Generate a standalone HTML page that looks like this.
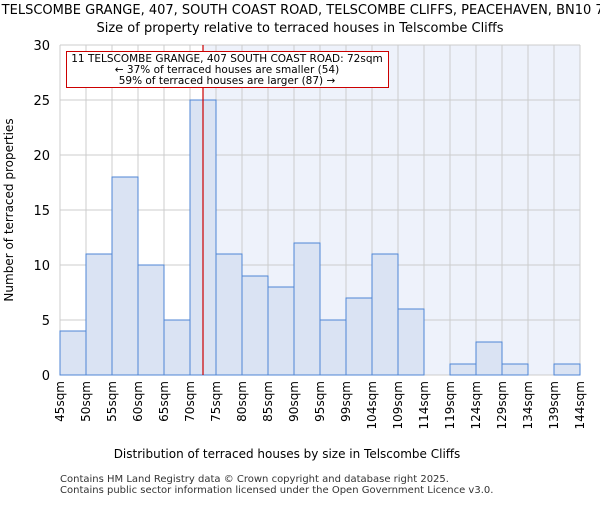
<!DOCTYPE html>
<html><head><meta charset="utf-8"><style>body{margin:0;background:#fff}svg{font-family:"DejaVu Sans","Liberation Sans",sans-serif}</style></head>
<body>
<svg id="c" width="600" height="500" xmlns="http://www.w3.org/2000/svg">
<text x="300" y="14" text-anchor="middle" font-size="13">11, TELSCOMBE GRANGE, 407, SOUTH COAST ROAD, TELSCOMBE CLIFFS, PEACEHAVEN, BN10 7HN</text>
<text x="300" y="32" text-anchor="middle" font-size="13">Size of property relative to terraced houses in Telscombe Cliffs</text>
<g id="plot"></g>
<text x="287" y="458" text-anchor="middle" font-size="12">Distribution of terraced houses by size in Telscombe Cliffs</text>
<text transform="translate(13,210) rotate(-90)" text-anchor="middle" font-size="12">Number of terraced properties</text>
<text x="60" y="482" font-size="10" fill="#333">Contains HM Land Registry data © Crown copyright and database right 2025.</text>
<text x="60" y="493" font-size="10" fill="#333">Contains public sector information licensed under the Open Government Licence v3.0.</text>
</svg>
<script>
const labels=["45sqm","50sqm","55sqm","60sqm","65sqm","70sqm","75sqm","80sqm","85sqm","90sqm","95sqm","99sqm","104sqm","109sqm","114sqm","119sqm","124sqm","129sqm","134sqm","139sqm","144sqm"];
const counts=[4,11,18,10,5,25,11,9,8,12,5,7,11,6,0,1,3,1,0,1];
const yTicks=[0,5,10,15,20,25,30];
const markerBin=5.5;
const NS="http://www.w3.org/2000/svg";
const g=document.getElementById('plot');
const L=60,R=580,T=45,B=375,yMax=30;
const nb=counts.length;
const xs=i=>L+(R-L)*i/nb;
const ys=v=>B-(B-T)*v/yMax;
function mk(t,a,p){const e=document.createElementNS(NS,t);for(const k in a)e.setAttribute(k,a[k]);(p||g).appendChild(e);return e;}
const mx=xs(markerBin);
let e=mk('rect',{x:mx,y:T,width:R-mx,height:B-T,fill:'#eef2fb'});


for(let i=0;i<=nb;i++){e=mk('line',{x1:xs(i),x2:xs(i),y1:T,y2:B,stroke:'#cccccc'});

}
yTicks.forEach(v=>{e=mk('line',{x1:L,x2:R,y1:ys(v),y2:ys(v),stroke:'#cccccc'});


e=mk('text',{x:L-10,y:ys(v)+5,'text-anchor':'end','font-size':13});e.textContent=v;

});
counts.forEach((c,i)=>{if(c<=0)return;e=mk('rect',{x:xs(i),y:ys(c),width:xs(i+1)-xs(i),height:B-ys(c),fill:'#dae3f3',stroke:'#4f86d4','stroke-width':1});

});
labels.forEach((l,i)=>{e=mk('text',{transform:`translate(${xs(i)+4},381) rotate(-90)`,'text-anchor':'end','font-size':12});e.textContent=l;

});
e=mk('line',{x1:mx,x2:mx,y1:T,y2:B,stroke:'#cc0000','stroke-width':1.2});


e=mk('rect',{x:66.5,y:51.5,width:322,height:36,fill:'#fff',stroke:'#cc0000'});


[["11 TELSCOMBE GRANGE, 407 SOUTH COAST ROAD: 72sqm",62],["← 37% of terraced houses are smaller (54)",73],["59% of terraced houses are larger (87) →",84]].forEach(([t,y])=>{e=mk('text',{x:227,y:y,'text-anchor':'middle','font-size':10.5});e.textContent=t;

});
</script>
</body></html>
